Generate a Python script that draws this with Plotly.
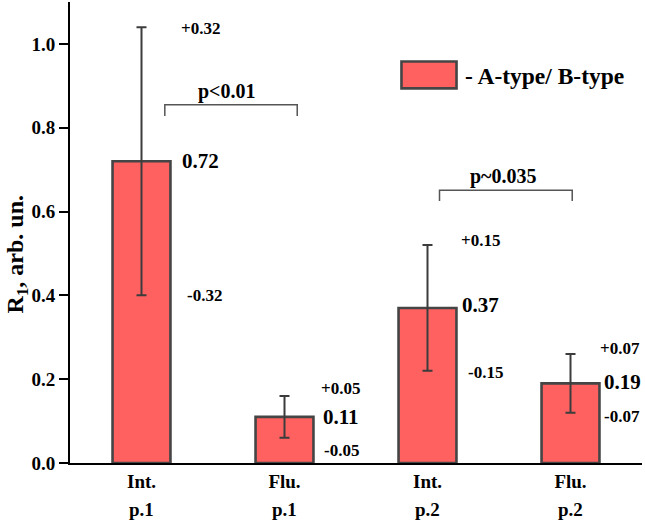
import plotly.graph_objects as go

# ---- data ----
categories = ["Int.", "Flu.", "Int.", "Flu."]
samples = ["p.1", "p.1", "p.2", "p.2"]
values = [0.72, 0.11, 0.37, 0.19]
errors = [0.32, 0.05, 0.15, 0.07]
legend_label = "- A-type/ B-type"
y_title = "R<sub>1</sub>, arb. un."
p_texts = ["p<0.01", "p~0.035"]

FONT = "Liberation Serif"
xs = list(range(len(values)))

fig = go.Figure()
fig.add_trace(go.Bar(
    x=xs, y=values, width=0.405,
    marker=dict(color="#FF6161", line=dict(color="#454545", width=2.6)),
    error_y=dict(type="data", array=errors, visible=True,
                 color="#3c3c3c", thickness=2, width=5),
    showlegend=False,
))

annotations = []
# value / error labels (layout positions in data coords)
val_pos = [(0.416, 0.720), (1.392, 0.109), (2.371, 0.378), (3.364, 0.194)]
up_pos = [(0.416, 1.037), (1.392, 0.177), (2.371, 0.531), (3.343, 0.274)]
lo_pos = [(0.444, 0.400), (1.399, 0.031), (2.406, 0.216), (3.357, 0.111)]
for i, (v, e) in enumerate(zip(values, errors)):
    annotations.append(dict(x=val_pos[i][0], y=val_pos[i][1], xref="x", yref="y",
                            text=f"{v:.2f}", showarrow=False,
                            font=dict(family=FONT, size=21, color="black", weight="bold")))
    annotations.append(dict(x=up_pos[i][0], y=up_pos[i][1], xref="x", yref="y",
                            text=f"+{e:.2f}", showarrow=False,
                            font=dict(family=FONT, size=17, color="black", weight="bold")))
    annotations.append(dict(x=lo_pos[i][0], y=lo_pos[i][1], xref="x", yref="y",
                            text=f"-{e:.2f}", showarrow=False,
                            font=dict(family=FONT, size=17, color="black", weight="bold")))

# second row of category labels
for i, s in enumerate(samples):
    annotations.append(dict(x=i, y=0, xref="x", yref="paper", yanchor="middle",
                            yshift=-46, text=s, showarrow=False,
                            font=dict(family=FONT, size=19, color="black", weight="bold")))

# p-value texts
annotations.append(dict(x=0.601, y=0.887, xref="x", yref="y", text=p_texts[0],
                        showarrow=False,
                        font=dict(family=FONT, size=20, color="black", weight="bold")))
annotations.append(dict(x=2.531, y=0.684, xref="x", yref="y", text=p_texts[1],
                        showarrow=False,
                        font=dict(family=FONT, size=20, color="black", weight="bold")))

# legend text
annotations.append(dict(x=2.245, y=0.923, xref="x", yref="y", xanchor="left",
                        text=legend_label, showarrow=False,
                        font=dict(family=FONT, size=23.5, color="black", weight="bold")))

# y title
annotations.append(dict(x=-0.093, y=0.452, xref="paper", yref="paper",
                        xanchor="center", yanchor="middle",
                        text=y_title, textangle=-90, showarrow=False,
                        font=dict(family=FONT, size=24, color="black", weight="bold")))

shapes = []
br = dict(color="#555555", width=1.5)
for (x0, x1, yh, yl) in [(0.163, 1.089, 0.855, 0.828), (2.084, 3.012, 0.651, 0.625)]:
    shapes.append(dict(type="path", xref="x", yref="y",
                       path=f"M {x0},{yl} L {x0},{yh} L {x1},{yh} L {x1},{yl}",
                       line=br))
# legend swatch
shapes.append(dict(type="rect", xref="x", yref="y", x0=1.818, x1=2.203, y0=0.894, y1=0.958,
                   fillcolor="#FF6161", line=dict(color="#454545", width=2.6)))

fig.update_layout(
    width=645, height=523,
    margin=dict(l=70, r=3, t=2, b=60),
    plot_bgcolor="white", paper_bgcolor="white",
    annotations=annotations, shapes=shapes,
    xaxis=dict(range=[-0.5, 3.5], tickvals=xs, ticktext=categories,
               showline=True, linecolor="black", linewidth=2, ticks="",
               showgrid=False, zeroline=False, ticklabelstandoff=0,
               tickfont=dict(family=FONT, size=19, color="black", weight="bold")),
    yaxis=dict(range=[0, 1.1], dtick=0.2, tick0=0, tickformat=".1f",
               showline=True, linecolor="black", linewidth=2,
               ticks="outside", ticklen=9, tickwidth=2, tickcolor="black",
               showgrid=False, zeroline=False,
               tickfont=dict(family=FONT, size=19, color="black", weight="bold")),
)

fig.write_html("out.html", config={"displayModeBar": False},
               post_script="document.body.style.margin='0';document.body.style.overflow='hidden';")
